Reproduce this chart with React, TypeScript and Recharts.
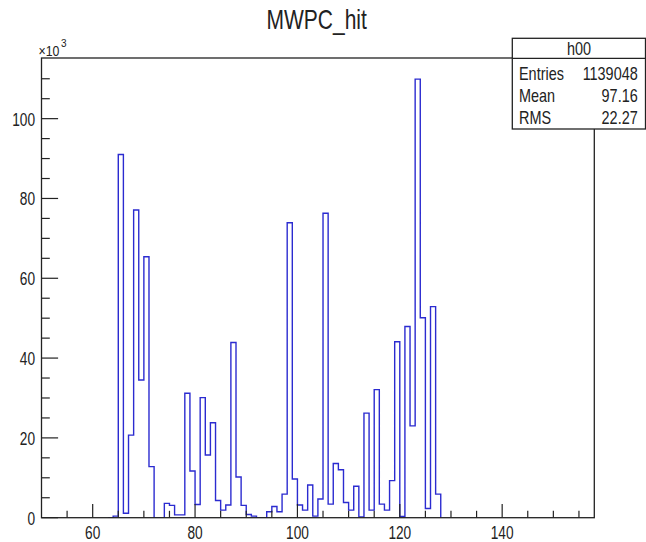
import React from 'react';
import { LineChart, Line, XAxis, YAxis } from 'recharts';

// lower bin edges (MWPC channel) and counts per bin in units of 10^3
const binLow = [
  63, 64, 65, 66, 67, 68, 69, 70, 71, 72, 73, 74, 75, 76, 77, 78, 79, 80, 81, 82, 83, 84,
  85, 86, 87, 88, 89, 90, 91, 92, 93, 94, 95, 96, 97, 98, 99, 100, 101, 102, 103, 104, 105,
  106, 107, 108, 109, 110, 111, 112, 113, 114, 115, 116, 117, 118, 119, 120, 121, 122, 123,
  124, 125, 126, 127, 128,
];
const counts = [
  0, 0.4, 91.0, 1.1, 20.7, 77.1, 34.5, 65.4, 12.8, 0, 0, 3.6, 3.1, 0.7, 0.7, 31.2, 11.7, 3.3,
  30.1, 15.7, 23.8, 4.3, 1.9, 3.2, 43.9, 10.2, 3.1, 0.8, 0.4, 0, 0, 1.5, 2.8, 1.5, 5.9, 73.9,
  9.7, 3.2, 1.9, 8.2, 0.4, 4.7, 76.3, 3.4, 13.6, 12.0, 3.8, 1.9, 7.9, 0.2, 26.2, 1.9, 32.1,
  3.4, 1.9, 9.3, 44.1, 0.3, 47.9, 23.0, 109.9, 50.1, 2.3, 52.9, 5.9, 0,
];
const xTicks = [55, 60, 65, 70, 75, 80, 85, 90, 95, 100, 105, 110, 115, 120, 125, 130, 135, 140, 145, 150, 155];
const yTicks = [0, 5, 10, 15, 20, 25, 30, 35, 40, 45, 50, 55, 60, 65, 70, 75, 80, 85, 90, 95, 100, 105, 110];
const statsRows = [
  { label: 'Entries', value: '1139048' },
  { label: 'Mean', value: '97.16' },
  { label: 'RMS', value: '22.27' },
];

const data = binLow.map((x, i) => ({ x, v: counts[i] }));

const W = 646;
const H = 542;
const L = 41.5;
const R = 594.3;
const T = 58;
const B = 517.7;
const FONT = '"Liberation Sans", Arial, Helvetica, sans-serif';
const INK = '#222';

const YTick = (props: any) => {
  const { y, payload } = props;
  const v = payload.value;
  const major = v % 20 === 0;
  return (
    <g>
      <line x1={L} x2={L + (major ? 16.6 : 8.3)} y1={y} y2={y} stroke={INK} strokeWidth={1.2} />
      {major && (
        <text transform={`translate(35,${y + 7}) scale(0.74,1)`} textAnchor="end" fontSize={18.5} fontFamily={FONT} fill={INK}>
          {v}
        </text>
      )}
    </g>
  );
};

const XTick = (props: any) => {
  const { x, payload } = props;
  const v = payload.value;
  const major = v % 20 === 0;
  return (
    <g>
      <line x1={x} x2={x} y1={B} y2={B - (major ? 13.8 : 6.9)} stroke={INK} strokeWidth={1.2} />
      {major && (
        <text transform={`translate(${x},539) scale(0.74,1)`} textAnchor="middle" fontSize={18.5} fontFamily={FONT} fill={INK}>
          {v}
        </text>
      )}
    </g>
  );
};

export default function App() {
  return (
    <div style={{ position: 'absolute', left: 0, top: 0, width: W, height: H, background: '#fff' }}>
      <LineChart width={W} height={H} data={data} margin={{ top: T, right: W - R, bottom: 0, left: 0 }}>
        <XAxis
          dataKey="x"
          type="number"
          domain={[50, 158]}
          ticks={xTicks}
          interval={0}
          height={H - B}
          axisLine={false}
          tickLine={false}
          tick={XTick}
          allowDataOverflow
        />
        <YAxis
          type="number"
          domain={[0, 115.2]}
          ticks={yTicks}
          interval={0}
          width={L}
          axisLine={false}
          tickLine={false}
          tick={YTick}
          allowDataOverflow
        />
        <Line type="stepAfter" dataKey="v" stroke="#2b2bd0" strokeWidth={1.4} dot={false} isAnimationActive={false} />
      </LineChart>

      <svg width={W} height={H} style={{ position: 'absolute', left: 0, top: 0, pointerEvents: 'none' }}>
        <rect x={L} y={T} width={R - L} height={B - T} fill="none" stroke={INK} strokeWidth={1.3} />
        <text transform="translate(316.7,28.5) scale(0.75,1)" textAnchor="middle" fontSize={28} fontFamily={FONT} fill={INK}>
          MWPC_hit
        </text>
        <text transform="translate(38.5,56) scale(0.85,1)" fontSize={14.5} fontFamily={FONT} fill={INK}>
          ×10
        </text>
        <text x={61} y={47} fontSize={10} fontFamily={FONT} fill={INK}>3</text>

        <rect x={512.3} y={38.3} width={133.2} height={90.7} fill="#fff" stroke={INK} strokeWidth={1.3} />
        <line x1={512.3} x2={645.5} y1={58.3} y2={58.3} stroke={INK} strokeWidth={1.3} />
        <text transform="translate(579,55) scale(0.78,1)" textAnchor="middle" fontSize={18.5} fontFamily={FONT} fill={INK}>
          h00
        </text>
        {statsRows.map((r, i) => (
          <g key={r.label}>
            <text transform={`translate(519,${79.5 + i * 22}) scale(0.78,1)`} fontSize={18.5} fontFamily={FONT} fill={INK}>
              {r.label}
            </text>
            <text transform={`translate(637.7,${79.5 + i * 22}) scale(0.78,1)`} textAnchor="end" fontSize={18.5} fontFamily={FONT} fill={INK}>
              {r.value}
            </text>
          </g>
        ))}
      </svg>
    </div>
  );
}
